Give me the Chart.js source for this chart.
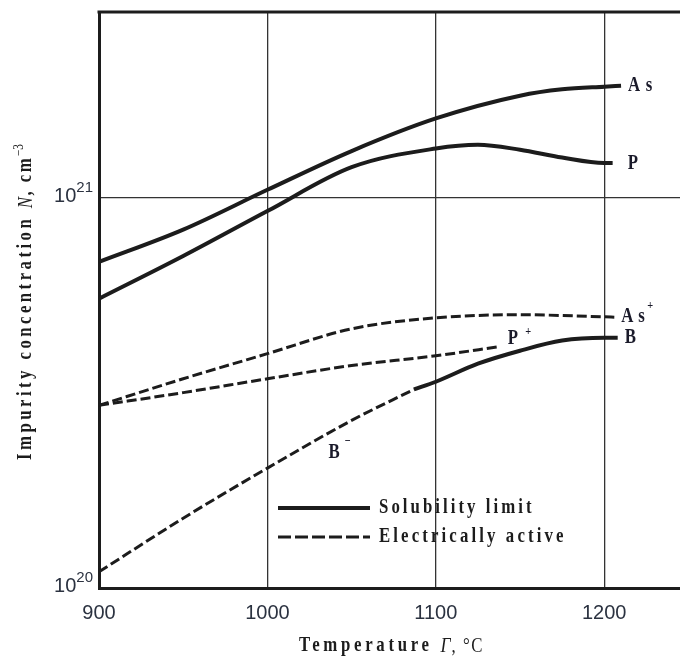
<!DOCTYPE html>
<html>
<head>
<meta charset="utf-8">
<script src="https://cdn.jsdelivr.net/npm/chart.js@4"></script>
<style>
  html, body { margin: 0; padding: 0; background: #fff; overflow: hidden; }
  #wrap { width: 680px; height: 657px; }
</style>
</head>
<body>
<div id="wrap"><canvas id="chart" width="680" height="657"></canvas></div>
<script>
// tick values
const xTicks = [900, 1000, 1100, 1200];
const yTicks = [1e20, 1e21];

// solubility limit (solid)
const tAs = [900, 950, 1000, 1050, 1100, 1150, 1175, 1200, 1210];
const nAs = [6.86e20, 8.3e20, 1.05e21, 1.32e21, 1.6e21, 1.83e21, 1.9e21, 1.93e21, 1.94e21];
const tP  = [900, 950, 1000, 1050, 1100, 1125, 1150, 1175, 1200, 1205];
const nP  = [5.52e20, 7.1e20, 9.26e20, 1.2e21, 1.34e21, 1.37e21, 1.33e21, 1.27e21, 1.23e21, 1.23e21];
const tB  = [1087, 1100, 1125, 1150, 1175, 1200, 1208];
const nB  = [3.23e20, 3.38e20, 3.76e20, 4.06e20, 4.31e20, 4.38e20, 4.38e20];

// electrically active (dashed)
const tAsA = [900, 950, 1000, 1050, 1100, 1150, 1200, 1206];
const nAsA = [2.94e20, 3.44e20, 3.99e20, 4.62e20, 4.93e20, 5.02e20, 4.96e20, 4.95e20];
const tPA  = [900, 950, 1000, 1050, 1100, 1138];
const nPA  = [2.94e20, 3.17e20, 3.44e20, 3.72e20, 3.94e20, 4.16e20];
const tBA  = [900, 950, 1000, 1050, 1087];
const nBA  = [1.10e20, 1.51e20, 2.03e20, 2.69e20, 3.23e20];

const INK = '#1c1c1c';
const xy = (ts, ns) => ts.map((t, i) => ({x: t, y: ns[i]}));

function solid(label, ts, ns) {
  return { label, data: xy(ts, ns), borderColor: INK, borderWidth: 4,
           pointRadius: 0, cubicInterpolationMode: 'monotone', fill: false };
}
function dashed(label, ts, ns) {
  return { label, data: xy(ts, ns), borderColor: INK, borderWidth: 3, borderDash: [10, 4],
           pointRadius: 0, cubicInterpolationMode: 'monotone', fill: false };
}

// draw a row of text runs: [text, font, dy, letterSpacing], squeezed horizontally by sx
function runs(ctx, parts, x, y, align, sx) {
  sx = sx || 1;
  let w = 0;
  parts.forEach(p => { ctx.font = p[1]; ctx.letterSpacing = p[3] || '0px'; w += ctx.measureText(p[0]).width; });
  ctx.save();
  ctx.translate(x, y);
  ctx.scale(sx, 1);
  let cx = align === 'center' ? -w / 2 : align === 'right' ? -w : 0;
  ctx.textAlign = 'left';
  parts.forEach(p => {
    ctx.font = p[1]; ctx.letterSpacing = p[3] || '0px';
    ctx.fillText(p[0], cx, p[2] || 0);
    cx += ctx.measureText(p[0]).width;
  });
  ctx.restore();
}

const SERIF = '"Liberation Serif", "Times New Roman", serif';
const SANS = '"Liberation Sans", Arial, sans-serif';
const BIG = 'bold 21px ' + SERIF;
const SUP = 'bold 13px ' + SERIF;
const SQ = 0.8;

const decor = {
  id: 'decor',
  afterDraw(chart) {
    const {ctx, chartArea: a, scales: {x, y}} = chart;
    const ds = chart.data.datasets;
    const end = (i) => ds[i].data[ds[i].data.length - 1];
    ctx.save();

    // top frame line
    ctx.strokeStyle = INK; ctx.lineWidth = 3;
    ctx.beginPath(); ctx.moveTo(a.left - 1.5, a.top); ctx.lineTo(a.right, a.top); ctx.stroke();

    // y tick labels 10^n
    ctx.fillStyle = '#2b3240'; ctx.textBaseline = 'middle';
    yTicks.forEach(v => {
      const py = y.getPixelForValue(v);
      const e = String(Math.round(Math.log10(v)));
      runs(ctx, [['10', '20px ' + SANS, 0], [e, '15px ' + SANS, -8]], 93, py - 2, 'right');
    });

    // axis titles
    ctx.fillStyle = INK; ctx.textBaseline = 'middle';
    runs(ctx, [['Temperature ', BIG, 0, '4.6px'],
               ['Γ', 'italic 22px ' + SERIF, 0, '1px'],
               [', °C', '21px ' + SERIF, 0, '2px']],
         (a.left + a.right) / 2 + 2, 646, 'center', SQ);
    ctx.save();
    ctx.translate(26, (a.top + a.bottom) / 2 + 2);
    ctx.rotate(-Math.PI / 2);
    runs(ctx, [['Impurity concentration ', BIG, 0, '4.3px'],
               ['N', 'italic 21px ' + SERIF, 0, '2px'],
               [', cm', BIG, 0, '3px'],
               ['−3', '14px ' + SERIF, -7, '0px']],
         0, 0, 'center', SQ);
    ctx.restore();

    // curve labels
    ctx.textBaseline = 'middle'; ctx.fillStyle = '#1a1a2a';
    let p = end(0);
    runs(ctx, [['A', BIG, 0, '7px'], ['s', BIG, 0]], x.getPixelForValue(p.x) + 7, y.getPixelForValue(p.y), 'left', SQ);
    p = end(1);
    runs(ctx, [['P', BIG, 0]], x.getPixelForValue(p.x) + 15, y.getPixelForValue(p.y) + 1, 'left', SQ);
    p = end(2);
    runs(ctx, [['B', BIG, 0]], x.getPixelForValue(p.x) + 7, y.getPixelForValue(p.y), 'left', SQ);
    p = end(3);
    runs(ctx, [['A', BIG, 0, '6px'], ['s', BIG, 0, '3px'], ['+', SUP, -10]], x.getPixelForValue(p.x) + 7, y.getPixelForValue(p.y) - 1, 'left', SQ);
    p = end(4);
    runs(ctx, [['P', BIG, 0, '9px'], ['+', SUP, -7]], x.getPixelForValue(p.x) + 8, y.getPixelForValue(p.y) - 8, 'left', SQ);
    p = ds[5].data[3];
    runs(ctx, [['B', BIG, 0, '6px'], ['−', SUP, -11]], x.getPixelForValue(p.x) - 23, y.getPixelForValue(p.y) + 32, 'left', SQ);

    // legend inside plot
    const lx0 = 278, lx1 = 370, ly1 = 508, ly2 = 537;
    ctx.strokeStyle = INK;
    ctx.lineWidth = 4; ctx.setLineDash([]);
    ctx.beginPath(); ctx.moveTo(lx0, ly1); ctx.lineTo(lx1, ly1); ctx.stroke();
    ctx.lineWidth = 3; ctx.setLineDash([13, 4]);
    ctx.beginPath(); ctx.moveTo(lx0, ly2); ctx.lineTo(lx1, ly2); ctx.stroke();
    ctx.setLineDash([]);
    ctx.fillStyle = INK;
    runs(ctx, [['Solubility limit', BIG, 0, '3.8px']], 379, ly1, 'left', SQ);
    runs(ctx, [['Electrically active', BIG, 0, '3.9px']], 379, ly2, 'left', SQ);

    ctx.restore();
  }
};

new Chart(document.getElementById('chart'), {
  type: 'line',
  data: {
    datasets: [
      solid('As', tAs, nAs),
      solid('P', tP, nP),
      solid('B', tB, nB),
      dashed('As+', tAsA, nAsA),
      dashed('P+', tPA, nPA),
      dashed('B-', tBA, nBA)
    ]
  },
  options: {
    responsive: false,
    animation: false,
    devicePixelRatio: 1,
    layout: { padding: { top: 12, left: 0, right: 0, bottom: 0 } },
    plugins: { legend: { display: false }, tooltip: { enabled: false } },
    scales: {
      x: {
        type: 'linear', min: 900, max: 1245,
        afterBuildTicks: s => { s.ticks = xTicks.map(v => ({value: v})); },
        afterFit: s => { s.height = 69; },
        grid: { color: '#333', lineWidth: 1.3, drawTicks: false },
        border: { color: INK, width: 3 },
        ticks: { color: '#2b3240', font: { family: SANS, size: 20 }, padding: 13, maxRotation: 0,
                 callback: v => String(v) }
      },
      y: {
        type: 'logarithmic', min: 1e20, max: 3e21,
        afterBuildTicks: s => { s.ticks = yTicks.map(v => ({value: v})); },
        afterFit: s => { s.width = 99; },
        grid: { color: '#333', lineWidth: 1.3, drawTicks: false },
        border: { color: INK, width: 3 },
        ticks: { display: false }
      }
    }
  },
  plugins: [decor]
});
</script>
</body>
</html>
